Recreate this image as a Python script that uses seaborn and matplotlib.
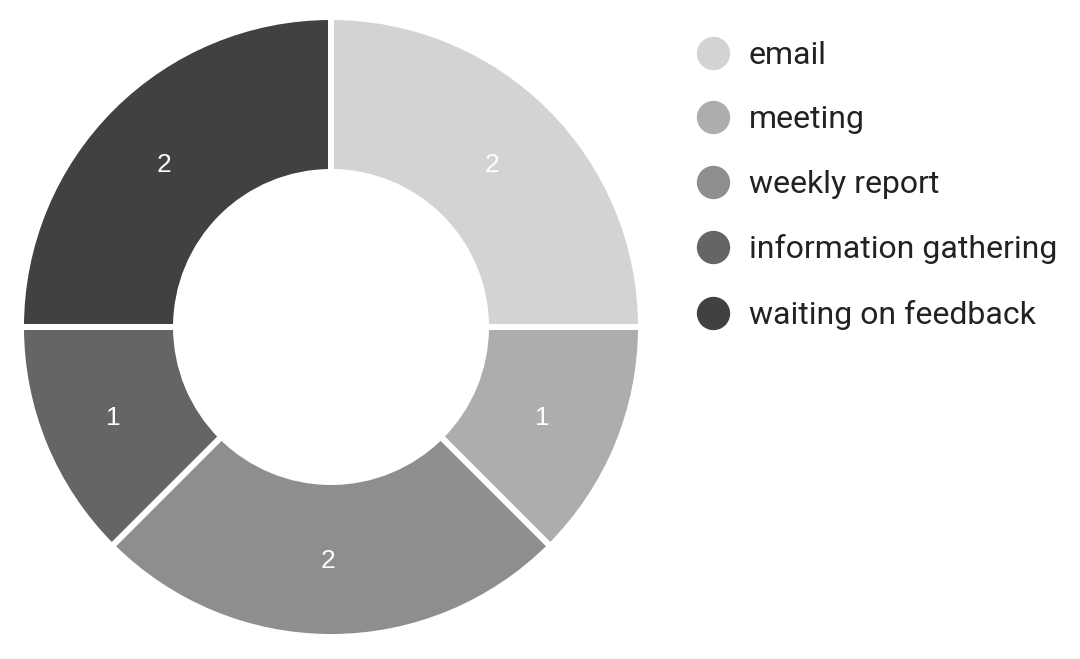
import matplotlib
matplotlib.use("Agg")
import matplotlib.pyplot as plt
import seaborn as sns
from matplotlib.lines import Line2D

categories = ["email", "meeting", "weekly report", "information gathering", "waiting on feedback"]
values = [2, 1, 2, 1, 2]
colors = ["#d3d3d3", "#acadac", "#8e8e8e", "#646564", "#404143"]

sns.set_theme(style="white")
plt.rcParams['font.family'] = ['Roboto', 'DejaVu Sans']

fig = plt.figure(figsize=(10.8, 6.59), dpi=100)
ax = fig.add_axes([21/1080, 22/659, 620/1080, 620/659])

wedges, texts, autotexts = ax.pie(
    values, colors=sns.color_palette(colors), startangle=90, counterclock=False,
    autopct=lambda p: f"{round(p*sum(values)/100):d}", pctdistance=0.748,
    wedgeprops=dict(width=0.5, edgecolor="white", linewidth=4.3),
    textprops=dict(color="white", fontsize=19, family=['Liberation Sans', 'DejaVu Sans']),
)
# small nudge of the value labels (pixels -> data units, radius = 310 px)
for t in autotexts:
    x, y = t.get_position()
    t.set_position((x - 3/310, y - 2/310))
ax.set_xlim(-1, 1)
ax.set_ylim(-1, 1)
ax.set_aspect("equal")
ax.axis("off")

handles = [Line2D([0], [0], marker="o", linestyle="none", markersize=23,
                  markerfacecolor=c, markeredgecolor=c) for c in colors]
fig.legend(handles, categories, loc="upper left", bbox_to_anchor=(677/1080, 1 - 25/659),
           frameon=False, fontsize=23, labelspacing=1.11, handletextpad=0.5,
           handlelength=1.24, borderpad=0, labelcolor="#222222")

fig.savefig("out.png", dpi=100)
